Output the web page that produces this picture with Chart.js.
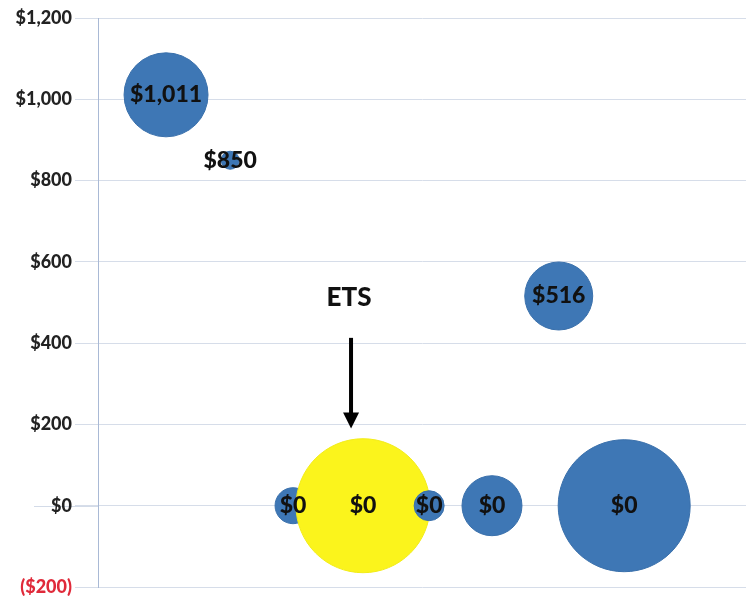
<!DOCTYPE html>
<html><head><meta charset="utf-8">
<script src="https://cdn.jsdelivr.net/npm/chart.js@4/dist/chart.umd.min.js"></script>
<style>html,body{margin:0;padding:0;background:#fff}#wrap{width:746px;height:598px}</style>
</head><body><div id="wrap"><canvas id="c"></canvas></div>
<script>
const xValues = [1.05, 2.04, 7.11, 3.01, 4.09, 5.11, 6.08, 8.12];
const yValues = [1011, 850, 516, 0, 0, 0, 0, 0];
const bubbleRadius = [42, 9, 34, 18, 67, 15, 30, 66];
const bubbleLabels = ['$1,011', '$850', '$516', '$0', '$0', '$0', '$0', '$0'];
const highlightIndex = 4;
const annotationText = 'ETS';
const yTicks = [-200, 0, 200, 400, 600, 800, 1000, 1200];

const FONT = 'Lato, "Open Sans", sans-serif';
const points = xValues.map((x, i) => ({x: x, y: yValues[i], r: bubbleRadius[i]}));

// keep the plot area the full size (no extra padding for bubble radius)
Chart.BubbleController.prototype.getMaxOverflow = function () { return 0; };

const labelPlugin = {
  id: 'labels',
  beforeDraw(chart) {
    const ctx = chart.ctx;
    const ys = chart.scales.y;
    const y0 = Math.round(ys.getPixelForValue(0)) + 0.5;
    ctx.save();
    ctx.strokeStyle = '#d3dbe8';
    ctx.lineWidth = 1;
    ctx.beginPath();
    ctx.moveTo(34, y0);
    ctx.lineTo(chart.chartArea.left, y0);
    ctx.stroke();
    ctx.restore();
  },
  afterDatasetsDraw(chart) {
    const ctx = chart.ctx;
    const meta = chart.getDatasetMeta(0);
    const ys = chart.scales.y;
    ctx.save();
    ctx.font = '900 23px ' + FONT;
    ctx.fillStyle = '#111';
    ctx.textAlign = 'center';
    ctx.textBaseline = 'middle';
    meta.data.forEach((el, i) => {
      ctx.fillText(bubbleLabels[i], el.x, el.y);
    });
    // ETS annotation
    const h = meta.data[highlightIndex];
    const ax = h.x - 12;
    ctx.font = '900 26px ' + FONT;
    ctx.fillText(annotationText, ax - 2, ys.getPixelForValue(512));
    ctx.strokeStyle = '#000';
    ctx.lineWidth = 4;
    ctx.beginPath();
    ctx.moveTo(ax, ys.getPixelForValue(413));
    ctx.lineTo(ax, ys.getPixelForValue(220));
    ctx.stroke();
    ctx.fillStyle = '#000';
    ctx.beginPath();
    const tipY = ys.getPixelForValue(190);
    ctx.moveTo(ax - 8, tipY - 16);
    ctx.lineTo(ax + 8, tipY - 16);
    ctx.lineTo(ax, tipY);
    ctx.closePath();
    ctx.fill();
    ctx.restore();
  }
};

new Chart(document.getElementById('c'), {
  type: 'bubble',
  data: {
    datasets: [{
      data: points,
      backgroundColor: points.map((p, i) => i === highlightIndex ? '#fbf41c' : '#3e77b5'),
      borderColor: points.map((p, i) => i === highlightIndex ? '#f2ec1a' : '#3a70ab'),
      borderWidth: 1,
      hoverRadius: 0
    }]
  },
  options: {
    responsive: true,
    maintainAspectRatio: false,
    animation: false,
    layout: {padding: {top: 18, right: 0, bottom: 11, left: 0}},
    plugins: {legend: {display: false}, tooltip: {enabled: false}},
    scales: {
      x: {
        type: 'linear', min: 0, max: 10, display: false
      },
      y: {
        min: -200, max: 1200,
        afterBuildTicks(scale) { scale.ticks = yTicks.map(v => ({value: v})); },
        afterFit(scale) { scale.width = 98; scale.paddingTop = 0; scale.paddingBottom = 0; },
        border: {color: '#a9b9d5', width: 1},
        grid: {color: '#d6dde9', tickLength: 23, drawTicks: true},
        ticks: {
          padding: 3,
          font: {family: FONT, size: 18, weight: '900'},
          color: ctx => ctx.tick.value < 0 ? '#e02a3a' : '#222',
          callback: v => {
            const s = '$' + Math.abs(v).toLocaleString('en-US');
            return v < 0 ? '(' + s + ')' : s;
          }
        }
      }
    }
  },
  plugins: [labelPlugin]
});
</script>
</body></html>
